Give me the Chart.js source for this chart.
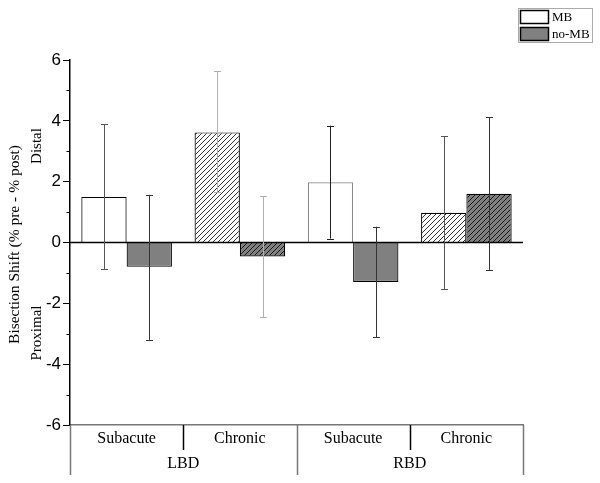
<!DOCTYPE html>
<html lang="en">
<head>
    <meta charset="UTF-8">
    <title>Bisection Shift</title>
    <script src="https://cdn.jsdelivr.net/npm/chart.js"></script>
    <style>
        body { margin: 0; background: #fff; }
        #wrap { width: 600px; height: 483px; }
    </style>
</head>
<body>
    <div id="wrap"><canvas id="barChart" width="600" height="483"></canvas></div>

    <script>
        // categories (sub level) and groups
        const subLabels = ['Subacute', 'Chronic', 'Subacute', 'Chronic'];
        const groupLabels = ['LBD', 'RBD'];

        // series values
        const mbValues = [1.5, 3.62, 1.98, 0.98];
        const noMbValues = [-0.8, -0.46, -1.3, 1.6];

        // error bar ends
        const mbLow = [-0.87, 1.66, 0.13, -1.53];
        const mbHigh = [3.88, 5.63, 3.84, 3.49];
        const noMbLow = [-3.2, -2.45, -3.12, -0.9];
        const noMbHigh = [1.57, 1.52, 0.52, 4.11];

        const mbErrColors = ['#555', '#b0b0b0', '#222', '#555'];
        const noMbErrColors = ['#333', '#b0b0b0', '#333', '#333'];

        const serif = '"Liberation Serif", "Times New Roman", serif';
        const sans = '"Liberation Sans", Arial, sans-serif';

        function hatch(bg) {
            const c = document.createElement('canvas');
            c.width = 5; c.height = 5;
            const g = c.getContext('2d');
            g.fillStyle = bg;
            g.fillRect(0, 0, 5, 5);
            g.strokeStyle = '#000';
            g.lineWidth = 0.8;
            g.beginPath();
            g.moveTo(0, 5); g.lineTo(5, 0);
            g.moveTo(-1, 1); g.lineTo(1, -1);
            g.moveTo(4, 6); g.lineTo(6, 4);
            g.stroke();
            return document.getElementById('barChart').getContext('2d').createPattern(c, 'repeat');
        }

        const mbFill = ['#ffffff', hatch('#ffffff'), '#ffffff', hatch('#ffffff')];
        const noMbFill = ['#808080', hatch('#808080'), '#808080', hatch('#808080')];

        const errorBars = {
            id: 'errorBars',
            afterDatasetsDraw(chart) {
                const ctx = chart.ctx;
                const y = chart.scales.y;
                const area = chart.chartArea;
                const sets = [[mbLow, mbHigh, mbErrColors], [noMbLow, noMbHigh, noMbErrColors]];
                ctx.save();
                // zero line
                ctx.strokeStyle = '#000';
                ctx.lineWidth = 1.5;
                ctx.beginPath();
                ctx.moveTo(area.left, y.getPixelForValue(0));
                ctx.lineTo(area.right, y.getPixelForValue(0));
                ctx.stroke();
                sets.forEach((s, di) => {
                    chart.getDatasetMeta(di).data.forEach((bar, i) => {
                        const x = Math.round(bar.x) + 0.5;
                        const lo = y.getPixelForValue(s[0][i]);
                        const hi = y.getPixelForValue(s[1][i]);
                        ctx.strokeStyle = s[2][i];
                        ctx.lineWidth = 1;
                        ctx.beginPath();
                        ctx.moveTo(x, lo); ctx.lineTo(x, hi);
                        ctx.moveTo(x - 3.5, Math.round(lo) + 0.5); ctx.lineTo(x + 3.5, Math.round(lo) + 0.5);
                        ctx.moveTo(x - 3.5, Math.round(hi) + 0.5); ctx.lineTo(x + 3.5, Math.round(hi) + 0.5);
                        ctx.stroke();
                    });
                });
                ctx.restore();
            }
        };

        const decorations = {
            id: 'decorations',
            afterDraw(chart) {
                const ctx = chart.ctx;
                const x = chart.scales.x;
                const y = chart.scales.y;
                const area = chart.chartArea;
                const step = x.getPixelForValue(1) - x.getPixelForValue(0);
                ctx.save();

                // minor y ticks
                ctx.strokeStyle = '#000';
                ctx.lineWidth = 1;
                for (let v = -5; v <= 5; v += 2) {
                    const py = Math.round(y.getPixelForValue(v)) + 0.5;
                    ctx.beginPath();
                    ctx.moveTo(area.left - 3.5, py);
                    ctx.lineTo(area.left, py);
                    ctx.stroke();
                }

                // x axis two-level labels
                ctx.fillStyle = '#000';
                ctx.textAlign = 'center';
                ctx.textBaseline = 'middle';
                ctx.font = '16px ' + serif;
                subLabels.forEach((lab, i) => {
                    ctx.fillText(lab, x.getPixelForValue(i), area.bottom + 14);
                });
                groupLabels.forEach((lab, g) => {
                    const cx = (x.getPixelForValue(g * 2) + x.getPixelForValue(g * 2 + 1)) / 2;
                    ctx.fillText(lab, cx, area.bottom + 39);
                });
                ctx.lineWidth = 1.5;
                for (let i = 0; i <= subLabels.length; i++) {
                    const px = Math.round(x.getPixelForValue(i) - step / 2) + 0.5;
                    const outer = i % 2 === 0;
                    ctx.strokeStyle = outer ? '#777' : '#000';
                    ctx.beginPath();
                    ctx.moveTo(px, area.bottom);
                    ctx.lineTo(px, area.bottom + (outer ? 50 : 25));
                    ctx.stroke();
                }

                // y titles
                ctx.save();
                ctx.translate(15, (area.top + area.bottom) / 2 + 2);
                ctx.rotate(-Math.PI / 2);
                ctx.font = '15.5px ' + serif;
                ctx.fillText('Bisection Shift (% pre - % post)', 0, 0);
                ctx.restore();
                ctx.font = '15px ' + serif;
                [['Distal', 146], ['Proximal', 333]].forEach(([t, cy]) => {
                    ctx.save();
                    ctx.translate(37, cy);
                    ctx.rotate(-Math.PI / 2);
                    ctx.fillText(t, 0, 0);
                    ctx.restore();
                });

                // legend
                const lx = 518, ly = 8;
                ctx.fillStyle = '#fff';
                ctx.fillRect(lx, ly, 75, 35);
                ctx.strokeStyle = '#aaa';
                ctx.lineWidth = 1;
                ctx.strokeRect(lx + 0.5, ly + 0.5, 74, 34);
                chart.data.datasets.forEach((ds, i) => {
                    const ry = ly + 2 + i * 17;
                    ctx.fillStyle = i === 0 ? '#ffffff' : '#808080';
                    ctx.fillRect(lx + 2, ry, 29, 14);
                    ctx.strokeStyle = '#000';
                    ctx.lineWidth = 1.5;
                    ctx.strokeRect(lx + 2.5, ry + 0.5, 28, 13);
                    ctx.fillStyle = '#000';
                    ctx.textAlign = 'left';
                    ctx.font = '13px ' + serif;
                    ctx.fillText(ds.label, lx + 34, ry + 8);
                });
                ctx.restore();
            }
        };

        const chart = new Chart(document.getElementById('barChart'), {
            type: 'bar',
            data: {
                labels: subLabels,
                datasets: [
                    {
                        label: 'MB',
                        data: mbValues,
                        backgroundColor: mbFill,
                        borderColor: ['#000', '#000', '#888', '#000'],
                        borderWidth: 1.2
                    },
                    {
                        label: 'no-MB',
                        data: noMbValues,
                        backgroundColor: noMbFill,
                        borderColor: '#000',
                        borderWidth: 1.2
                    }
                ]
            },
            options: {
                responsive: false,
                animation: false,
                layout: { padding: { top: 60, right: 77, left: 0, bottom: 0 } },
                datasets: { bar: { categoryPercentage: 0.8, barPercentage: 1.0 } },
                plugins: { legend: { display: false }, tooltip: { enabled: false } },
                scales: {
                    x: {
                        ticks: { display: false },
                        grid: { display: false },
                        border: { display: true, color: '#777', width: 1.5 },
                        afterFit(s) { s.height = 58; }
                    },
                    y: {
                        min: -6,
                        max: 6,
                        ticks: {
                            stepSize: 2,
                            color: '#000',
                            font: { family: sans, size: 17 },
                            padding: 2
                        },
                        grid: {
                            drawOnChartArea: false,
                            tickLength: 7,
                            tickColor: '#000'
                        },
                        border: { color: '#000', width: 1.5 },
                        afterFit(s) { s.width = 70; }
                    }
                }
            },
            plugins: [errorBars, decorations]
        });
    </script>
</body>
</html>
